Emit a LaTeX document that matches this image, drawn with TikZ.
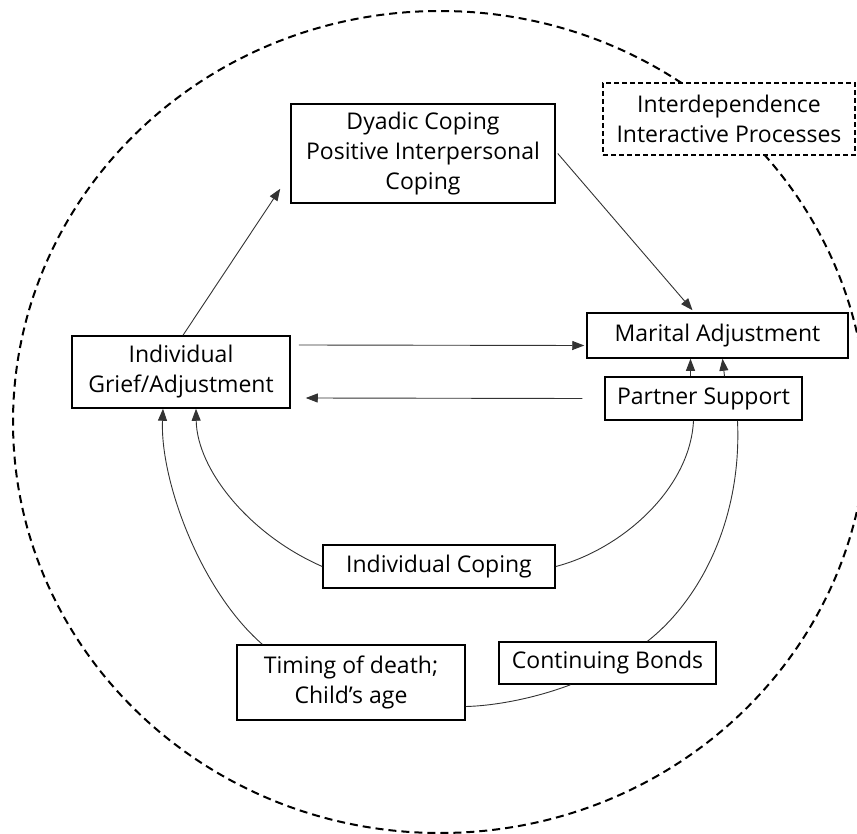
\documentclass[tikz,border=0pt]{standalone}
\usepackage{fontspec}
\setmainfont{Open Sans}
\usepackage{tikz}
\usetikzlibrary{positioning,calc,arrows.meta}

\begin{document}
\begin{tikzpicture}[x=1pt,y=-1pt,
		box/.style={draw=black, line width=1.5pt, fill=white, align=center, inner sep=0pt,
			font=\fontsize{23}{30}\selectfont},
		dbox/.style={box, dash pattern=on 5pt off 3pt},
		ring/.style={line width=2pt, dash pattern=on 8pt off 5pt},
		arrow/.style={draw=black!80, line width=0.9pt, -{Triangle[length=12pt,width=9pt]}},
		link/.style={draw=black!80, line width=0.9pt}
		]
		\useasboundingbox (0,0) rectangle (857,834);
		\draw[ring] (440,422) ellipse [x radius=427, y radius=411];
		
		\node[dbox, minimum width=252, minimum height=72] (inter) at (729,119) {Interdependence\\Interactive Processes};
		\node[box, minimum width=264, minimum height=99] (dyad) at (423,153.5) {Dyadic Coping\\Positive Interpersonal\\Coping};
		\node[box, minimum width=261, minimum height=45] (marital) at (717.5,335.5) {Marital Adjustment};
		\node[box, minimum width=197, minimum height=43] (partner) at (703.5,398.5) {Partner Support};
		\node[box, minimum width=218, minimum height=72] (indiv) at (181,372) {Individual\\Grief/Adjustment};
		\node[box, minimum width=232, minimum height=43] (coping) at (439,566.5) {Individual Coping};
		\node[box, minimum width=228, minimum height=75] (timing) at (351,682.5) {Timing of death;\\Child's age};
		\node[box, minimum width=217, minimum height=42] (bonds) at (607.5,663) {Continuing Bonds};
		
		% straight links
		\draw[arrow] ($(indiv.north)+(2,0)$) -- ($(dyad.south west)+(-10,-15)$);
		\draw[arrow] ($(dyad.east)+(2,0)$) -- ($(marital.north)+(-25,-2)$);
		\draw[arrow] ($(indiv.east)+(8,-27)$) -- ($(marital.west)+(-2,10)$);
		\draw[arrow] ($(partner.west)+(-22,0)$) -- ($(indiv.east)+(15,26)$);
		\draw[arrow] ($(partner.north)+(-13,0)$) -- ($(marital.south)+(-27,0)$);
		\draw[arrow] ($(partner.north)+(21,0)$) -- ($(marital.south)+(5,0)$);
		
		% curved links
		\draw[link] ($(partner.south)+(-10,0)$) .. controls (690,490) and (620,550) .. (coping.east);
		\draw[arrow] (coping.west) .. controls (250,535) and (197,470) .. ($(indiv.south)+(15,0)$);
		\draw[link] ($(partner.south)+(34,0)$) .. controls (742,520) and (700,600) .. ($(bonds.north)+(40,0)$);
		\draw[link] ($(bonds.south)+(-37,0)$) .. controls (530,700) and (490,706) .. ($(timing.east)+(0,24)$);
		\draw[arrow] ($(timing.north west)+(26,0)$) .. controls (200,590) and (160,480) .. ($(indiv.south)+(-18,0)$);
	\end{tikzpicture}
\end{document}
